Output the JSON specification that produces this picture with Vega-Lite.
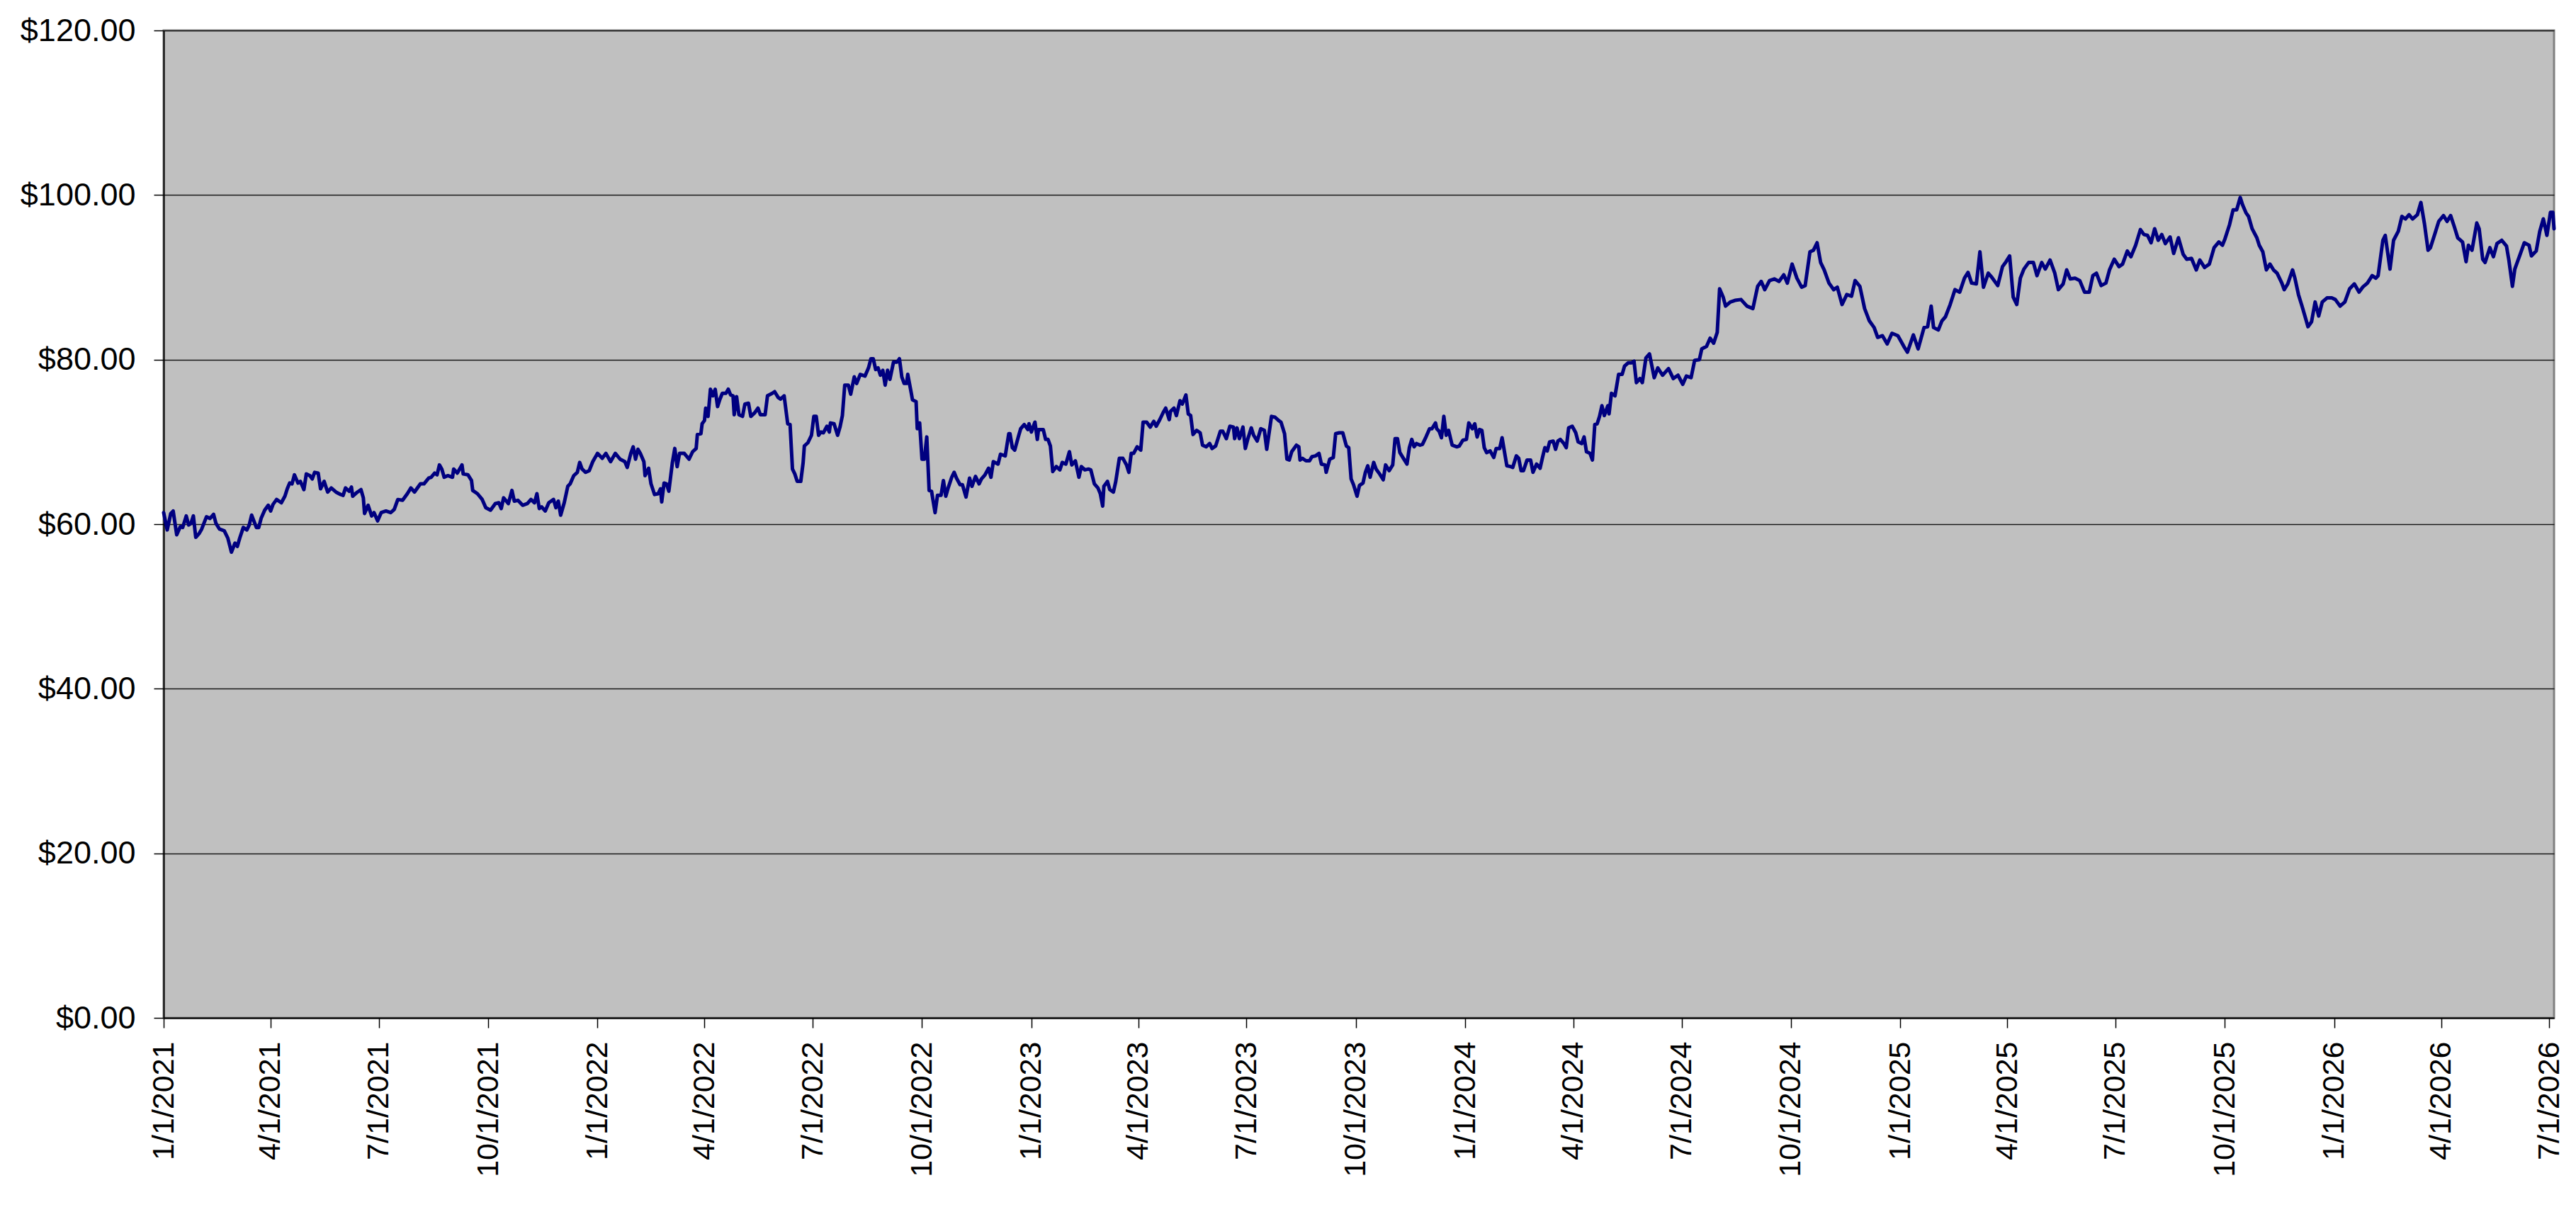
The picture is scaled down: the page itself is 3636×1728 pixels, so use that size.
{
  "$schema": "https://vega.github.io/schema/vega-lite/v6.json",
  "autosize": {"type": "none"},
  "padding": {"left": 231, "top": 43, "right": 31, "bottom": 291},
  "width": 3374,
  "height": 1394,
  "background": "#FFFFFF",
  "config": {
    "view": {"fill": "#C0C0C0", "stroke": "#808080", "strokeWidth": 3},
    "axis": {
      "labelFont": "Liberation Sans",
      "labelColor": "#000000",
      "labelLimit": 0,
      "domainColor": "#000000",
      "domainWidth": 2,
      "tickColor": "#000000",
      "tickWidth": 1.5,
      "tickSize": 14,
      "title": null
    }
  },
  "data": {
    "values": [
      {"d":"2021-01-01","p":61.4},{"d":"2021-01-04","p":59.3},{"d":"2021-01-07","p":61.3},{"d":"2021-01-09","p":61.6},{"d":"2021-01-12","p":58.7},{"d":"2021-01-15","p":59.7},{"d":"2021-01-17","p":59.6},{"d":"2021-01-20","p":61.0},{"d":"2021-01-22","p":59.9},{"d":"2021-01-24","p":60.1},{"d":"2021-01-26","p":61.0},{"d":"2021-01-28","p":58.4},{"d":"2021-01-31","p":58.9},
      {"d":"2021-02-02","p":59.4},{"d":"2021-02-06","p":60.9},{"d":"2021-02-09","p":60.7},{"d":"2021-02-12","p":61.2},{"d":"2021-02-14","p":60.1},{"d":"2021-02-17","p":59.4},{"d":"2021-02-21","p":59.2},{"d":"2021-02-24","p":58.3},{"d":"2021-02-27","p":56.6},
      {"d":"2021-03-02","p":57.7},{"d":"2021-03-04","p":57.3},{"d":"2021-03-06","p":58.3},{"d":"2021-03-09","p":59.6},{"d":"2021-03-12","p":59.3},{"d":"2021-03-14","p":59.9},{"d":"2021-03-16","p":61.1},{"d":"2021-03-20","p":59.6},{"d":"2021-03-22","p":59.6},{"d":"2021-03-24","p":60.7},{"d":"2021-03-27","p":61.7},{"d":"2021-03-30","p":62.3},
      {"d":"2021-04-01","p":61.6},{"d":"2021-04-03","p":62.4},{"d":"2021-04-06","p":63.0},{"d":"2021-04-10","p":62.6},{"d":"2021-04-13","p":63.4},{"d":"2021-04-15","p":64.3},{"d":"2021-04-17","p":65.0},{"d":"2021-04-19","p":64.9},{"d":"2021-04-21","p":66.0},{"d":"2021-04-24","p":65.0},{"d":"2021-04-26","p":65.2},{"d":"2021-04-29","p":64.2},
      {"d":"2021-05-01","p":66.1},{"d":"2021-05-04","p":65.9},{"d":"2021-05-06","p":65.5},{"d":"2021-05-08","p":66.3},{"d":"2021-05-11","p":66.2},{"d":"2021-05-13","p":64.3},{"d":"2021-05-16","p":65.2},{"d":"2021-05-19","p":63.9},{"d":"2021-05-22","p":64.4},{"d":"2021-05-26","p":63.9},{"d":"2021-05-30","p":63.6},
      {"d":"2021-06-01","p":63.5},{"d":"2021-06-03","p":64.4},{"d":"2021-06-06","p":64.0},{"d":"2021-06-08","p":64.5},{"d":"2021-06-09","p":63.4},{"d":"2021-06-13","p":63.9},{"d":"2021-06-16","p":64.2},{"d":"2021-06-18","p":63.2},{"d":"2021-06-19","p":61.3},{"d":"2021-06-22","p":62.3},{"d":"2021-06-25","p":61.0},{"d":"2021-06-27","p":61.4},{"d":"2021-06-30","p":60.4},
      {"d":"2021-07-03","p":61.4},{"d":"2021-07-07","p":61.6},{"d":"2021-07-11","p":61.4},{"d":"2021-07-14","p":61.8},{"d":"2021-07-17","p":63.0},{"d":"2021-07-21","p":62.9},{"d":"2021-07-25","p":63.7},{"d":"2021-07-28","p":64.4},{"d":"2021-07-31","p":63.9},
      {"d":"2021-08-02","p":64.3},{"d":"2021-08-05","p":64.9},{"d":"2021-08-08","p":64.9},{"d":"2021-08-12","p":65.6},{"d":"2021-08-14","p":65.7},{"d":"2021-08-17","p":66.2},{"d":"2021-08-19","p":66.0},{"d":"2021-08-21","p":67.2},{"d":"2021-08-23","p":66.7},{"d":"2021-08-25","p":65.7},{"d":"2021-08-28","p":65.9},
      {"d":"2021-09-01","p":65.7},{"d":"2021-09-02","p":66.7},{"d":"2021-09-05","p":66.2},{"d":"2021-09-09","p":67.2},{"d":"2021-09-10","p":66.1},{"d":"2021-09-14","p":66.0},{"d":"2021-09-17","p":65.3},{"d":"2021-09-18","p":64.1},{"d":"2021-09-22","p":63.7},{"d":"2021-09-26","p":63.0},{"d":"2021-09-29","p":62.0},
      {"d":"2021-10-03","p":61.7},{"d":"2021-10-07","p":62.5},{"d":"2021-10-10","p":62.6},{"d":"2021-10-12","p":61.9},{"d":"2021-10-14","p":63.2},{"d":"2021-10-18","p":62.5},{"d":"2021-10-21","p":64.1},{"d":"2021-10-23","p":62.8},{"d":"2021-10-26","p":62.9},{"d":"2021-10-30","p":62.3},
      {"d":"2021-11-03","p":62.5},{"d":"2021-11-06","p":63.0},{"d":"2021-11-09","p":62.6},{"d":"2021-11-11","p":63.7},{"d":"2021-11-13","p":61.9},{"d":"2021-11-15","p":62.1},{"d":"2021-11-18","p":61.6},{"d":"2021-11-21","p":62.6},{"d":"2021-11-25","p":63.0},{"d":"2021-11-27","p":62.0},{"d":"2021-11-29","p":62.8},
      {"d":"2021-12-01","p":61.1},{"d":"2021-12-04","p":62.6},{"d":"2021-12-07","p":64.6},{"d":"2021-12-09","p":64.9},{"d":"2021-12-12","p":65.9},{"d":"2021-12-15","p":66.3},{"d":"2021-12-17","p":67.5},{"d":"2021-12-19","p":66.7},{"d":"2021-12-22","p":66.3},{"d":"2021-12-25","p":66.5},{"d":"2021-12-28","p":67.6},
      {"d":"2022-01-01","p":68.6},{"d":"2022-01-05","p":68.0},{"d":"2022-01-08","p":68.6},{"d":"2022-01-12","p":67.6},{"d":"2022-01-16","p":68.6},{"d":"2022-01-20","p":67.9},{"d":"2022-01-24","p":67.6},{"d":"2022-01-26","p":66.9},{"d":"2022-01-29","p":68.6},{"d":"2022-01-31","p":69.4},
      {"d":"2022-02-02","p":67.9},{"d":"2022-02-04","p":69.1},{"d":"2022-02-06","p":68.6},{"d":"2022-02-09","p":67.6},{"d":"2022-02-10","p":65.9},{"d":"2022-02-13","p":66.8},{"d":"2022-02-15","p":64.9},{"d":"2022-02-18","p":63.6},{"d":"2022-02-21","p":63.7},{"d":"2022-02-23","p":64.3},{"d":"2022-02-24","p":62.7},{"d":"2022-02-26","p":65.0},{"d":"2022-02-28","p":64.9},
      {"d":"2022-03-02","p":64.0},{"d":"2022-03-05","p":67.5},{"d":"2022-03-07","p":69.2},{"d":"2022-03-09","p":67.0},{"d":"2022-03-11","p":68.6},{"d":"2022-03-15","p":68.6},{"d":"2022-03-19","p":67.9},{"d":"2022-03-22","p":68.8},{"d":"2022-03-25","p":69.2},{"d":"2022-03-26","p":70.9},{"d":"2022-03-29","p":71.0},{"d":"2022-03-30","p":72.2},
      {"d":"2022-04-01","p":72.6},{"d":"2022-04-02","p":74.1},{"d":"2022-04-04","p":73.1},{"d":"2022-04-06","p":76.4},{"d":"2022-04-08","p":75.6},{"d":"2022-04-10","p":76.4},{"d":"2022-04-12","p":74.3},{"d":"2022-04-14","p":75.2},{"d":"2022-04-16","p":75.9},{"d":"2022-04-19","p":75.9},{"d":"2022-04-21","p":76.4},{"d":"2022-04-23","p":75.7},{"d":"2022-04-25","p":75.6},{"d":"2022-04-26","p":73.3},{"d":"2022-04-28","p":75.5},{"d":"2022-04-30","p":73.3},
      {"d":"2022-05-03","p":73.1},{"d":"2022-05-05","p":74.6},{"d":"2022-05-08","p":74.7},{"d":"2022-05-10","p":73.1},{"d":"2022-05-13","p":73.5},{"d":"2022-05-16","p":74.1},{"d":"2022-05-18","p":73.3},{"d":"2022-05-22","p":73.3},{"d":"2022-05-24","p":75.6},{"d":"2022-05-28","p":75.9},{"d":"2022-05-30","p":76.1},
      {"d":"2022-06-02","p":75.4},{"d":"2022-06-04","p":75.2},{"d":"2022-06-07","p":75.6},{"d":"2022-06-10","p":72.2},{"d":"2022-06-12","p":72.1},{"d":"2022-06-14","p":66.7},{"d":"2022-06-16","p":66.1},{"d":"2022-06-18","p":65.2},{"d":"2022-06-21","p":65.2},{"d":"2022-06-23","p":67.5},{"d":"2022-06-24","p":69.5},{"d":"2022-06-27","p":69.9},{"d":"2022-06-30","p":70.8},
      {"d":"2022-07-02","p":73.1},{"d":"2022-07-04","p":73.1},{"d":"2022-07-06","p":70.8},{"d":"2022-07-08","p":71.2},{"d":"2022-07-10","p":71.1},{"d":"2022-07-13","p":71.9},{"d":"2022-07-15","p":71.2},{"d":"2022-07-16","p":72.3},{"d":"2022-07-19","p":72.2},{"d":"2022-07-22","p":70.8},{"d":"2022-07-24","p":71.8},{"d":"2022-07-26","p":73.2},{"d":"2022-07-28","p":76.9},{"d":"2022-07-31","p":76.9},
      {"d":"2022-08-02","p":75.8},{"d":"2022-08-05","p":77.9},{"d":"2022-08-07","p":77.1},{"d":"2022-08-10","p":78.2},{"d":"2022-08-14","p":78.0},{"d":"2022-08-17","p":79.0},{"d":"2022-08-19","p":80.1},{"d":"2022-08-21","p":80.1},{"d":"2022-08-23","p":78.8},{"d":"2022-08-25","p":79.0},{"d":"2022-08-27","p":78.1},{"d":"2022-08-29","p":78.7},{"d":"2022-08-31","p":76.9},
      {"d":"2022-09-02","p":78.7},{"d":"2022-09-04","p":77.6},{"d":"2022-09-07","p":79.7},{"d":"2022-09-10","p":79.7},{"d":"2022-09-12","p":80.1},{"d":"2022-09-14","p":77.9},{"d":"2022-09-16","p":77.1},{"d":"2022-09-18","p":77.1},{"d":"2022-09-19","p":78.2},{"d":"2022-09-22","p":75.9},{"d":"2022-09-23","p":75.1},{"d":"2022-09-26","p":74.9},{"d":"2022-09-27","p":71.6},{"d":"2022-09-29","p":72.3},
      {"d":"2022-10-01","p":67.9},{"d":"2022-10-03","p":67.9},{"d":"2022-10-05","p":70.6},{"d":"2022-10-07","p":64.1},{"d":"2022-10-09","p":64.0},{"d":"2022-10-12","p":61.4},{"d":"2022-10-14","p":63.5},{"d":"2022-10-17","p":63.5},{"d":"2022-10-19","p":65.3},{"d":"2022-10-21","p":63.4},{"d":"2022-10-23","p":64.4},{"d":"2022-10-26","p":65.7},{"d":"2022-10-28","p":66.3},{"d":"2022-10-30","p":65.6},
      {"d":"2022-11-02","p":64.8},{"d":"2022-11-04","p":64.8},{"d":"2022-11-07","p":63.3},{"d":"2022-11-10","p":65.6},{"d":"2022-11-12","p":64.6},{"d":"2022-11-15","p":65.8},{"d":"2022-11-18","p":64.9},{"d":"2022-11-20","p":65.5},{"d":"2022-11-23","p":66.0},{"d":"2022-11-26","p":66.8},{"d":"2022-11-28","p":65.7},{"d":"2022-11-30","p":67.6},
      {"d":"2022-12-04","p":67.3},{"d":"2022-12-06","p":68.5},{"d":"2022-12-10","p":68.3},{"d":"2022-12-13","p":71.0},{"d":"2022-12-14","p":71.0},{"d":"2022-12-16","p":69.3},{"d":"2022-12-18","p":69.0},{"d":"2022-12-21","p":70.6},{"d":"2022-12-23","p":71.6},{"d":"2022-12-26","p":72.1},{"d":"2022-12-29","p":71.5},{"d":"2022-12-30","p":72.2},
      {"d":"2023-01-01","p":71.2},{"d":"2023-01-04","p":72.4},{"d":"2023-01-06","p":70.3},{"d":"2023-01-07","p":71.5},{"d":"2023-01-11","p":71.5},{"d":"2023-01-13","p":70.3},{"d":"2023-01-15","p":70.3},{"d":"2023-01-17","p":69.5},{"d":"2023-01-19","p":66.4},{"d":"2023-01-22","p":67.0},{"d":"2023-01-25","p":66.6},{"d":"2023-01-27","p":67.5},{"d":"2023-01-30","p":67.3},
      {"d":"2023-02-02","p":68.8},{"d":"2023-02-04","p":67.2},{"d":"2023-02-07","p":67.7},{"d":"2023-02-10","p":65.7},{"d":"2023-02-12","p":67.0},{"d":"2023-02-15","p":66.6},{"d":"2023-02-18","p":66.7},{"d":"2023-02-20","p":66.6},{"d":"2023-02-23","p":64.9},{"d":"2023-02-26","p":64.4},{"d":"2023-02-28","p":63.7},
      {"d":"2023-03-02","p":62.2},{"d":"2023-03-03","p":64.6},{"d":"2023-03-06","p":65.2},{"d":"2023-03-08","p":64.2},{"d":"2023-03-11","p":63.9},{"d":"2023-03-13","p":65.2},{"d":"2023-03-16","p":68.0},{"d":"2023-03-19","p":68.0},{"d":"2023-03-22","p":67.2},{"d":"2023-03-24","p":66.3},{"d":"2023-03-26","p":68.6},{"d":"2023-03-28","p":68.6},{"d":"2023-03-31","p":69.4},
      {"d":"2023-04-03","p":69.0},{"d":"2023-04-05","p":72.4},{"d":"2023-04-08","p":72.4},{"d":"2023-04-11","p":71.8},{"d":"2023-04-14","p":72.5},{"d":"2023-04-16","p":71.9},{"d":"2023-04-19","p":72.7},{"d":"2023-04-22","p":73.6},{"d":"2023-04-24","p":74.1},{"d":"2023-04-27","p":72.7},{"d":"2023-04-28","p":73.7},
      {"d":"2023-05-01","p":74.1},{"d":"2023-05-03","p":73.2},{"d":"2023-05-06","p":75.0},{"d":"2023-05-08","p":74.6},{"d":"2023-05-11","p":75.7},{"d":"2023-05-13","p":73.4},{"d":"2023-05-15","p":73.2},{"d":"2023-05-17","p":70.9},{"d":"2023-05-20","p":71.4},{"d":"2023-05-23","p":71.1},{"d":"2023-05-25","p":69.6},{"d":"2023-05-28","p":69.4},{"d":"2023-05-31","p":69.8},
      {"d":"2023-06-02","p":69.2},{"d":"2023-06-05","p":69.5},{"d":"2023-06-09","p":71.3},{"d":"2023-06-11","p":71.3},{"d":"2023-06-14","p":70.4},{"d":"2023-06-17","p":71.9},{"d":"2023-06-20","p":71.8},{"d":"2023-06-21","p":70.4},{"d":"2023-06-23","p":71.7},{"d":"2023-06-25","p":70.4},{"d":"2023-06-28","p":71.8},{"d":"2023-06-30","p":69.2},
      {"d":"2023-07-02","p":70.3},{"d":"2023-07-05","p":71.7},{"d":"2023-07-07","p":70.8},{"d":"2023-07-10","p":70.1},{"d":"2023-07-13","p":71.6},{"d":"2023-07-16","p":71.4},{"d":"2023-07-18","p":69.1},{"d":"2023-07-22","p":73.1},{"d":"2023-07-25","p":73.0},{"d":"2023-07-28","p":72.6},{"d":"2023-07-30","p":72.4},
      {"d":"2023-08-02","p":71.0},{"d":"2023-08-04","p":67.9},{"d":"2023-08-06","p":67.8},{"d":"2023-08-08","p":68.8},{"d":"2023-08-12","p":69.6},{"d":"2023-08-14","p":69.4},{"d":"2023-08-15","p":67.8},{"d":"2023-08-17","p":68.0},{"d":"2023-08-20","p":67.7},{"d":"2023-08-23","p":67.7},{"d":"2023-08-25","p":68.2},{"d":"2023-08-28","p":68.3},{"d":"2023-08-31","p":68.6},
      {"d":"2023-09-02","p":67.3},{"d":"2023-09-05","p":67.2},{"d":"2023-09-06","p":66.3},{"d":"2023-09-09","p":67.9},{"d":"2023-09-12","p":68.1},{"d":"2023-09-14","p":71.0},{"d":"2023-09-17","p":71.1},{"d":"2023-09-20","p":71.1},{"d":"2023-09-23","p":69.5},{"d":"2023-09-25","p":69.3},{"d":"2023-09-27","p":65.5},{"d":"2023-09-29","p":64.8},
      {"d":"2023-10-02","p":63.4},{"d":"2023-10-04","p":64.7},{"d":"2023-10-07","p":65.0},{"d":"2023-10-09","p":66.3},{"d":"2023-10-11","p":67.1},{"d":"2023-10-13","p":65.7},{"d":"2023-10-16","p":67.5},{"d":"2023-10-18","p":66.7},{"d":"2023-10-21","p":66.1},{"d":"2023-10-24","p":65.4},{"d":"2023-10-26","p":67.2},{"d":"2023-10-29","p":66.5},
      {"d":"2023-11-01","p":67.2},{"d":"2023-11-03","p":70.4},{"d":"2023-11-05","p":70.4},{"d":"2023-11-07","p":68.7},{"d":"2023-11-10","p":68.0},{"d":"2023-11-13","p":67.3},{"d":"2023-11-15","p":69.3},{"d":"2023-11-17","p":70.3},{"d":"2023-11-19","p":69.4},{"d":"2023-11-21","p":69.8},{"d":"2023-11-24","p":69.6},{"d":"2023-11-26","p":69.7},{"d":"2023-11-29","p":70.6},
      {"d":"2023-12-02","p":71.6},{"d":"2023-12-04","p":71.6},{"d":"2023-12-07","p":72.3},{"d":"2023-12-08","p":71.6},{"d":"2023-12-10","p":71.3},{"d":"2023-12-12","p":70.5},{"d":"2023-12-14","p":73.1},{"d":"2023-12-16","p":70.8},{"d":"2023-12-18","p":71.4},{"d":"2023-12-21","p":69.6},{"d":"2023-12-25","p":69.4},{"d":"2023-12-27","p":69.5},{"d":"2023-12-30","p":70.2},
      {"d":"2024-01-02","p":70.3},{"d":"2024-01-04","p":72.3},{"d":"2024-01-07","p":71.6},{"d":"2024-01-09","p":72.2},{"d":"2024-01-11","p":70.6},{"d":"2024-01-13","p":71.5},{"d":"2024-01-15","p":71.4},{"d":"2024-01-17","p":69.3},{"d":"2024-01-19","p":68.7},{"d":"2024-01-22","p":68.9},{"d":"2024-01-25","p":68.1},{"d":"2024-01-27","p":69.2},{"d":"2024-01-30","p":69.2},
      {"d":"2024-02-01","p":70.5},{"d":"2024-02-03","p":68.8},{"d":"2024-02-05","p":67.1},{"d":"2024-02-08","p":67.0},{"d":"2024-02-10","p":66.9},{"d":"2024-02-13","p":68.3},{"d":"2024-02-15","p":68.0},{"d":"2024-02-17","p":66.5},{"d":"2024-02-19","p":66.5},{"d":"2024-02-22","p":67.8},{"d":"2024-02-25","p":67.8},{"d":"2024-02-27","p":66.3},
      {"d":"2024-03-01","p":67.3},{"d":"2024-03-04","p":66.8},{"d":"2024-03-06","p":68.1},{"d":"2024-03-08","p":69.3},{"d":"2024-03-10","p":68.9},{"d":"2024-03-12","p":70.0},{"d":"2024-03-15","p":70.1},{"d":"2024-03-17","p":69.1},{"d":"2024-03-19","p":70.1},{"d":"2024-03-21","p":70.3},{"d":"2024-03-24","p":69.8},{"d":"2024-03-26","p":69.3},{"d":"2024-03-28","p":71.7},{"d":"2024-03-31","p":71.9},
      {"d":"2024-04-03","p":71.1},{"d":"2024-04-05","p":70.0},{"d":"2024-04-08","p":69.8},{"d":"2024-04-10","p":70.6},{"d":"2024-04-12","p":68.8},{"d":"2024-04-15","p":68.6},{"d":"2024-04-17","p":67.8},{"d":"2024-04-19","p":72.1},{"d":"2024-04-21","p":72.2},{"d":"2024-04-23","p":73.1},{"d":"2024-04-25","p":74.4},{"d":"2024-04-27","p":73.2},{"d":"2024-04-30","p":74.4},
      {"d":"2024-05-01","p":73.4},{"d":"2024-05-03","p":75.9},{"d":"2024-05-06","p":75.6},{"d":"2024-05-08","p":77.3},{"d":"2024-05-09","p":78.2},{"d":"2024-05-12","p":78.2},{"d":"2024-05-14","p":79.2},{"d":"2024-05-17","p":79.6},{"d":"2024-05-20","p":79.6},{"d":"2024-05-22","p":79.8},{"d":"2024-05-24","p":77.2},{"d":"2024-05-27","p":77.7},{"d":"2024-05-29","p":77.2},
      {"d":"2024-06-01","p":80.2},{"d":"2024-06-04","p":80.7},{"d":"2024-06-08","p":77.8},{"d":"2024-06-11","p":79.0},{"d":"2024-06-15","p":78.1},{"d":"2024-06-20","p":78.9},{"d":"2024-06-24","p":77.7},{"d":"2024-06-28","p":78.1},
      {"d":"2024-07-02","p":77.0},{"d":"2024-07-05","p":78.0},{"d":"2024-07-09","p":77.8},{"d":"2024-07-12","p":79.9},{"d":"2024-07-16","p":80.0},{"d":"2024-07-18","p":81.3},{"d":"2024-07-22","p":81.6},{"d":"2024-07-25","p":82.6},{"d":"2024-07-28","p":82.0},{"d":"2024-07-31","p":83.3},
      {"d":"2024-08-02","p":88.6},{"d":"2024-08-05","p":87.6},{"d":"2024-08-07","p":86.5},{"d":"2024-08-11","p":87.0},{"d":"2024-08-15","p":87.2},{"d":"2024-08-20","p":87.3},{"d":"2024-08-25","p":86.5},{"d":"2024-08-30","p":86.2},
      {"d":"2024-09-03","p":88.9},{"d":"2024-09-06","p":89.5},{"d":"2024-09-09","p":88.5},{"d":"2024-09-13","p":89.6},{"d":"2024-09-17","p":89.8},{"d":"2024-09-21","p":89.5},{"d":"2024-09-25","p":90.3},{"d":"2024-09-28","p":89.3},
      {"d":"2024-10-02","p":91.6},{"d":"2024-10-06","p":89.9},{"d":"2024-10-10","p":88.8},{"d":"2024-10-13","p":89.0},{"d":"2024-10-17","p":93.1},{"d":"2024-10-20","p":93.3},{"d":"2024-10-23","p":94.2},{"d":"2024-10-26","p":91.8},{"d":"2024-10-29","p":90.9},
      {"d":"2024-11-02","p":89.3},{"d":"2024-11-06","p":88.5},{"d":"2024-11-09","p":88.8},{"d":"2024-11-13","p":86.7},{"d":"2024-11-17","p":87.9},{"d":"2024-11-21","p":87.7},{"d":"2024-11-24","p":89.6},{"d":"2024-11-28","p":88.9},
      {"d":"2024-12-02","p":86.2},{"d":"2024-12-06","p":84.7},{"d":"2024-12-10","p":83.9},{"d":"2024-12-13","p":82.7},{"d":"2024-12-17","p":82.9},{"d":"2024-12-21","p":81.9},{"d":"2024-12-25","p":83.2},{"d":"2024-12-30","p":82.9},
      {"d":"2025-01-04","p":81.6},{"d":"2025-01-07","p":80.9},{"d":"2025-01-12","p":83.0},{"d":"2025-01-16","p":81.3},{"d":"2025-01-21","p":83.9},{"d":"2025-01-24","p":84.0},{"d":"2025-01-27","p":86.5},{"d":"2025-01-29","p":83.9},
      {"d":"2025-02-02","p":83.6},{"d":"2025-02-05","p":84.7},{"d":"2025-02-08","p":85.2},{"d":"2025-02-12","p":86.7},{"d":"2025-02-16","p":88.5},{"d":"2025-02-20","p":88.2},{"d":"2025-02-24","p":89.9},{"d":"2025-02-27","p":90.6},
      {"d":"2025-03-02","p":89.3},{"d":"2025-03-06","p":89.2},{"d":"2025-03-09","p":93.1},{"d":"2025-03-12","p":88.8},{"d":"2025-03-16","p":90.5},{"d":"2025-03-19","p":90.0},{"d":"2025-03-24","p":89.0},{"d":"2025-03-28","p":91.3},{"d":"2025-03-31","p":91.9},
      {"d":"2025-04-03","p":92.6},{"d":"2025-04-06","p":87.6},{"d":"2025-04-09","p":86.7},{"d":"2025-04-12","p":89.9},{"d":"2025-04-15","p":91.0},{"d":"2025-04-19","p":91.8},{"d":"2025-04-23","p":91.8},{"d":"2025-04-26","p":90.2},{"d":"2025-04-30","p":91.8},
      {"d":"2025-05-03","p":91.0},{"d":"2025-05-07","p":92.1},{"d":"2025-05-11","p":90.5},{"d":"2025-05-14","p":88.5},{"d":"2025-05-18","p":89.2},{"d":"2025-05-21","p":90.9},{"d":"2025-05-24","p":89.8},{"d":"2025-05-28","p":89.9},
      {"d":"2025-06-01","p":89.6},{"d":"2025-06-05","p":88.2},{"d":"2025-06-09","p":88.2},{"d":"2025-06-12","p":90.2},{"d":"2025-06-15","p":90.5},{"d":"2025-06-19","p":89.0},{"d":"2025-06-23","p":89.3},{"d":"2025-06-26","p":90.9},{"d":"2025-06-30","p":92.2},
      {"d":"2025-07-04","p":91.3},{"d":"2025-07-07","p":91.6},{"d":"2025-07-11","p":93.2},{"d":"2025-07-14","p":92.5},{"d":"2025-07-18","p":93.9},{"d":"2025-07-22","p":95.8},{"d":"2025-07-25","p":95.2},{"d":"2025-07-28","p":95.1},{"d":"2025-07-31","p":94.2},
      {"d":"2025-08-03","p":95.9},{"d":"2025-08-06","p":94.5},{"d":"2025-08-09","p":95.2},{"d":"2025-08-12","p":94.1},{"d":"2025-08-16","p":94.9},{"d":"2025-08-19","p":92.9},{"d":"2025-08-23","p":94.8},{"d":"2025-08-27","p":92.8},{"d":"2025-08-30","p":92.2},
      {"d":"2025-09-03","p":92.3},{"d":"2025-09-07","p":90.9},{"d":"2025-09-10","p":92.1},{"d":"2025-09-14","p":91.2},{"d":"2025-09-18","p":91.6},{"d":"2025-09-22","p":93.6},{"d":"2025-09-26","p":94.3},{"d":"2025-09-29","p":93.9},
      {"d":"2025-10-01","p":94.6},{"d":"2025-10-05","p":96.4},{"d":"2025-10-08","p":98.2},{"d":"2025-10-11","p":98.2},{"d":"2025-10-14","p":99.7},{"d":"2025-10-16","p":98.8},{"d":"2025-10-19","p":97.8},{"d":"2025-10-21","p":97.4},{"d":"2025-10-24","p":95.9},{"d":"2025-10-28","p":94.8},{"d":"2025-10-30","p":93.9},
      {"d":"2025-11-02","p":93.1},{"d":"2025-11-05","p":90.9},{"d":"2025-11-08","p":91.6},{"d":"2025-11-11","p":90.9},{"d":"2025-11-14","p":90.5},{"d":"2025-11-18","p":89.3},{"d":"2025-11-20","p":88.5},{"d":"2025-11-23","p":89.2},{"d":"2025-11-27","p":90.9},{"d":"2025-11-29","p":89.9},
      {"d":"2025-12-02","p":87.9},{"d":"2025-12-05","p":86.5},{"d":"2025-12-07","p":85.5},{"d":"2025-12-10","p":84.0},{"d":"2025-12-13","p":84.6},{"d":"2025-12-16","p":87.0},{"d":"2025-12-19","p":85.3},{"d":"2025-12-22","p":87.0},{"d":"2025-12-26","p":87.5},{"d":"2025-12-30","p":87.5},
      {"d":"2026-01-02","p":87.3},{"d":"2026-01-06","p":86.5},{"d":"2026-01-10","p":87.0},{"d":"2026-01-14","p":88.6},{"d":"2026-01-18","p":89.2},{"d":"2026-01-22","p":88.2},{"d":"2026-01-25","p":88.8},{"d":"2026-01-29","p":89.3},
      {"d":"2026-02-02","p":90.2},{"d":"2026-02-05","p":89.9},{"d":"2026-02-07","p":90.2},{"d":"2026-02-11","p":94.5},{"d":"2026-02-13","p":95.1},{"d":"2026-02-17","p":91.0},{"d":"2026-02-20","p":94.5},{"d":"2026-02-24","p":95.6},{"d":"2026-02-27","p":97.4},
      {"d":"2026-03-02","p":97.1},{"d":"2026-03-05","p":97.6},{"d":"2026-03-08","p":97.1},{"d":"2026-03-12","p":97.6},{"d":"2026-03-15","p":99.1},{"d":"2026-03-18","p":96.5},{"d":"2026-03-21","p":93.3},{"d":"2026-03-23","p":93.6},{"d":"2026-03-27","p":95.4},{"d":"2026-03-30","p":96.8},
      {"d":"2026-04-03","p":97.5},{"d":"2026-04-06","p":96.8},{"d":"2026-04-09","p":97.5},{"d":"2026-04-12","p":96.2},{"d":"2026-04-15","p":94.8},{"d":"2026-04-19","p":94.3},{"d":"2026-04-22","p":91.9},{"d":"2026-04-24","p":93.9},{"d":"2026-04-27","p":93.3},
      {"d":"2026-05-01","p":96.6},{"d":"2026-05-03","p":95.9},{"d":"2026-05-06","p":92.2},{"d":"2026-05-08","p":91.8},{"d":"2026-05-12","p":93.6},{"d":"2026-05-15","p":92.5},{"d":"2026-05-18","p":94.1},{"d":"2026-05-22","p":94.5},{"d":"2026-05-26","p":93.8},{"d":"2026-05-28","p":92.1},{"d":"2026-05-31","p":88.9},
      {"d":"2026-06-02","p":91.0},{"d":"2026-06-06","p":92.6},{"d":"2026-06-10","p":94.2},{"d":"2026-06-14","p":93.9},{"d":"2026-06-16","p":92.6},{"d":"2026-06-20","p":93.2},{"d":"2026-06-23","p":95.6},{"d":"2026-06-26","p":97.1},{"d":"2026-06-29","p":95.1},
      {"d":"2026-07-02","p":97.9},{"d":"2026-07-04","p":97.9},{"d":"2026-07-05","p":95.9}
    ]
  },
  "mark": {"type": "line", "color": "#000080", "strokeWidth": 5, "strokeJoin": "round", "strokeCap": "round"},
  "encoding": {
    "x": {
      "field": "d",
      "type": "temporal",
      "scale": {
        "type": "utc",
        "domain": [
          {"year": 2021, "month": 1, "date": 1, "utc": true},
          {"year": 2026, "month": 7, "date": 5, "utc": true}
        ],
        "nice": false
      },
      "axis": {
        "grid": false,
        "format": "%-m/%-d/%Y",
        "labelAngle": 270,
        "labelFontSize": 43,
        "labelPadding": 19,
        "labelFlush": false,
        "labelOverlap": false,
        "labelBound": false,
        "values": [
          {"year": 2021, "month": 1, "date": 1, "utc": true},
          {"year": 2021, "month": 4, "date": 1, "utc": true},
          {"year": 2021, "month": 7, "date": 1, "utc": true},
          {"year": 2021, "month": 10, "date": 1, "utc": true},
          {"year": 2022, "month": 1, "date": 1, "utc": true},
          {"year": 2022, "month": 4, "date": 1, "utc": true},
          {"year": 2022, "month": 7, "date": 1, "utc": true},
          {"year": 2022, "month": 10, "date": 1, "utc": true},
          {"year": 2023, "month": 1, "date": 1, "utc": true},
          {"year": 2023, "month": 4, "date": 1, "utc": true},
          {"year": 2023, "month": 7, "date": 1, "utc": true},
          {"year": 2023, "month": 10, "date": 1, "utc": true},
          {"year": 2024, "month": 1, "date": 1, "utc": true},
          {"year": 2024, "month": 4, "date": 1, "utc": true},
          {"year": 2024, "month": 7, "date": 1, "utc": true},
          {"year": 2024, "month": 10, "date": 1, "utc": true},
          {"year": 2025, "month": 1, "date": 1, "utc": true},
          {"year": 2025, "month": 4, "date": 1, "utc": true},
          {"year": 2025, "month": 7, "date": 1, "utc": true},
          {"year": 2025, "month": 10, "date": 1, "utc": true},
          {"year": 2026, "month": 1, "date": 1, "utc": true},
          {"year": 2026, "month": 4, "date": 1, "utc": true},
          {"year": 2026, "month": 7, "date": 1, "utc": true}
        ]
      }
    },
    "y": {
      "field": "p",
      "type": "quantitative",
      "scale": {"domain": [0, 120], "nice": false, "zero": true},
      "axis": {
        "values": [0, 20, 40, 60, 80, 100, 120],
        "format": "$.2f",
        "labelFontSize": 45,
        "labelPadding": 26,
        "grid": true,
        "gridColor": "#1a1a1a",
        "gridWidth": 1.5,
        "labelFlush": false,
        "labelOverlap": false,
        "labelBound": false
      }
    }
  }
}
